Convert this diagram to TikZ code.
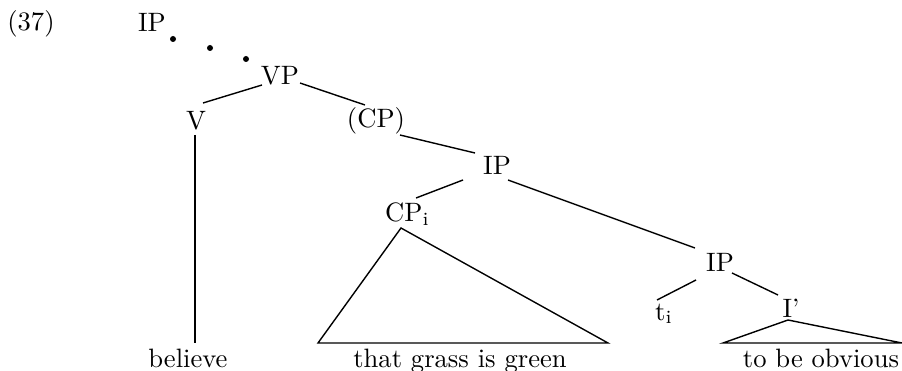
\documentclass[tikz,border=0pt]{standalone}
\usepackage{graphicx}
\usepackage{tikz}
\newcommand\bigtxt[1]{\scalebox{2.66}{#1}}
\begin{document}
\begin{tikzpicture}[x=1pt,y=-1pt,
  lbl/.style={inner sep=0pt,anchor=base,font=\fontsize{10}{12}\selectfont},
  edge/.style={line width=1.4pt},
  dotmark/.style={fill=black}]
\useasboundingbox (0,0) rectangle (902,371);
% nodes
\node[lbl] (ex) at (31,31) {\bigtxt{(37)}};
\node[lbl] (IPa) at (152,32) {\bigtxt{IP}};
\node[lbl] (VP) at (280,85) {\bigtxt{VP}};
\node[lbl] (V) at (196,130) {\bigtxt{V}};
\node[lbl] (CPp) at (376,128) {\bigtxt{(CP)}};
\node[lbl] (IPb) at (497,175) {\bigtxt{IP}};
\node[lbl,anchor=base west] (CPi) at (385,222) {\bigtxt{CP\textsubscript{i}}};
\node[lbl] (IPc) at (720,272) {\bigtxt{IP}};
\node[lbl,anchor=base west] (ti) at (655,320) {\bigtxt{t\textsubscript{i}}};
\node[lbl] (Ib) at (791,317) {\bigtxt{I'}};
\node[lbl] (believe) at (188,367) {\bigtxt{believe}};
\node[lbl] (green) at (460,367) {\bigtxt{that grass is green}};
\node[lbl] (obvious) at (821,367) {\bigtxt{to be obvious}};
% dots between IP and VP
\fill[dotmark] (173,39) circle (3);
\fill[dotmark] (210,48) circle (3);
\fill[dotmark] (246,59) circle (3);
% branches
\draw[edge] ([shift={(-18,0)}]VP.base) -- ([shift={(7,-27)}]V.base);
\draw[edge] ([shift={(20,-2)}]VP.base) -- ([shift={(-11,-23)}]CPp.base);
\draw[edge] ([shift={(24,7)}]CPp.base) -- ([shift={(-22,-22)}]IPb.base);
\draw[edge] ([shift={(-34,5)}]IPb.base) -- ([shift={(31,-24)}]CPi.base west);
\draw[edge] ([shift={(11,5)}]IPb.base) -- ([shift={(-25,-24)}]IPc.base);
\draw[edge] ([shift={(-24,8)}]IPc.base) -- ([shift={(2,-20)}]ti.base west);
\draw[edge] ([shift={(12,1)}]IPc.base) -- ([shift={(-13,-22)}]Ib.base);
\draw[edge] ([shift={(-1,5)}]V.base) -- ([shift={(7,-24)}]believe.base);
% triangles
\draw[edge,line join=miter] ([shift={(16,6)}]CPi.base west) -- ([shift={(-142,-24)}]green.base)
  -- ([shift={(148,-24)}]green.base) -- cycle;
\draw[edge,line join=miter] ([shift={(-3,3)}]Ib.base) -- ([shift={(-98,-24)}]obvious.base)
  -- ([shift={(81,-24)}]obvious.base) -- cycle;
\end{tikzpicture}
\end{document}
